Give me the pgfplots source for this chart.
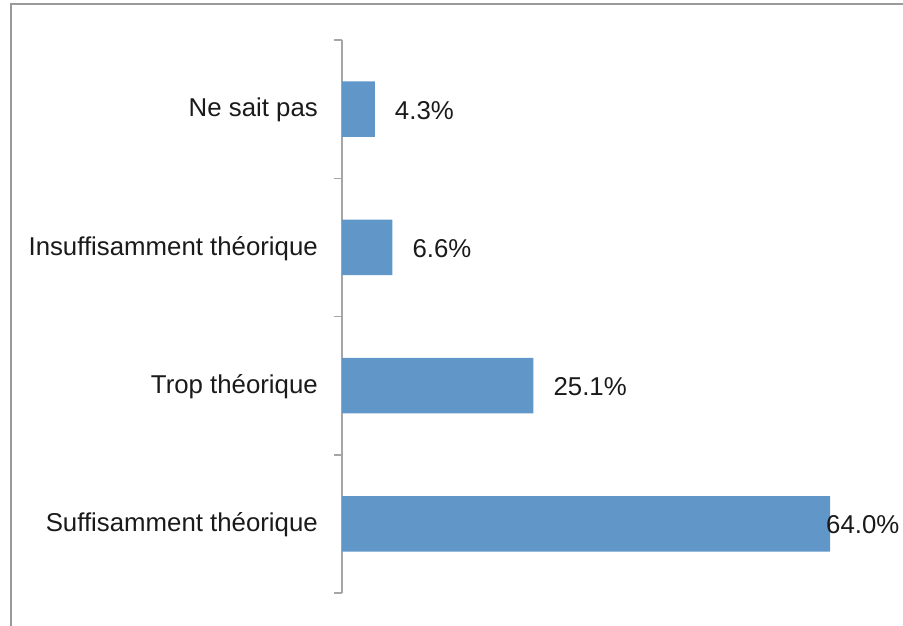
\documentclass[border=0pt]{standalone}
\usepackage{pgfplots}
\pgfplotsset{compat=1.18}
\usepackage{fontspec}
\setmainfont{Liberation Sans}
\definecolor{barblue}{HTML}{6096C8}
\definecolor{framegray}{HTML}{9A9A9A}
\definecolor{axisgray}{HTML}{A6A6A6}
\definecolor{txt}{HTML}{1A1A1A}
\begin{document}
\begin{tikzpicture}[x=1pt,y=1pt]
\useasboundingbox (0,0) rectangle (903,-625);
\clip (0,0) rectangle (903,-625);
\draw[framegray, line width=2pt] (11,-4) rectangle (915,-640);
\begin{axis}[
  at={(342pt,-593pt)}, anchor=south west,
  scale only axis, width=533.75pt, height=553pt,
  xmin=0, xmax=70, ymin=-0.5, ymax=3.5,
  separate axis lines,
  axis x line=none, axis y line*=left,
  y axis line style={axisgray, line width=1.5pt},
  xbar, bar width=0.4,
  ytick={0,1,2,3},
  yticklabels={Suffisamment théorique, Trop théorique, Insuffisamment théorique, Ne sait pas},
  major tick length=0pt,
  minor ytick={-0.5,0.5,1.5,2.5,3.5},
  minor tick length=8pt,
  tick align=outside,
  tick style={axisgray, line width=1.5pt},
  yticklabel style={font=\fontsize{25.8}{30}\selectfont, text=txt, inner sep=0pt, xshift=-24pt, yshift=-1pt, anchor=east},
  /pgf/number format/assume math mode=true,
  nodes near coords={\pgfmathprintnumber[fixed,fixed zerofill,precision=1]{\pgfplotspointmeta}\%},
  every node near coord/.append style={font=\fontsize{25.8}{30}\selectfont, text=txt, inner sep=0pt, anchor=west, xshift=20pt, yshift=-1pt},
  coordinate style/.condition={x>60}{xshift=-24pt},
  clip=false,
]
\addplot[fill=barblue, draw=none] coordinates {(64.0,0) (25.1,1) (6.6,2) (4.3,3)};
\end{axis}
\end{tikzpicture}
\end{document}
